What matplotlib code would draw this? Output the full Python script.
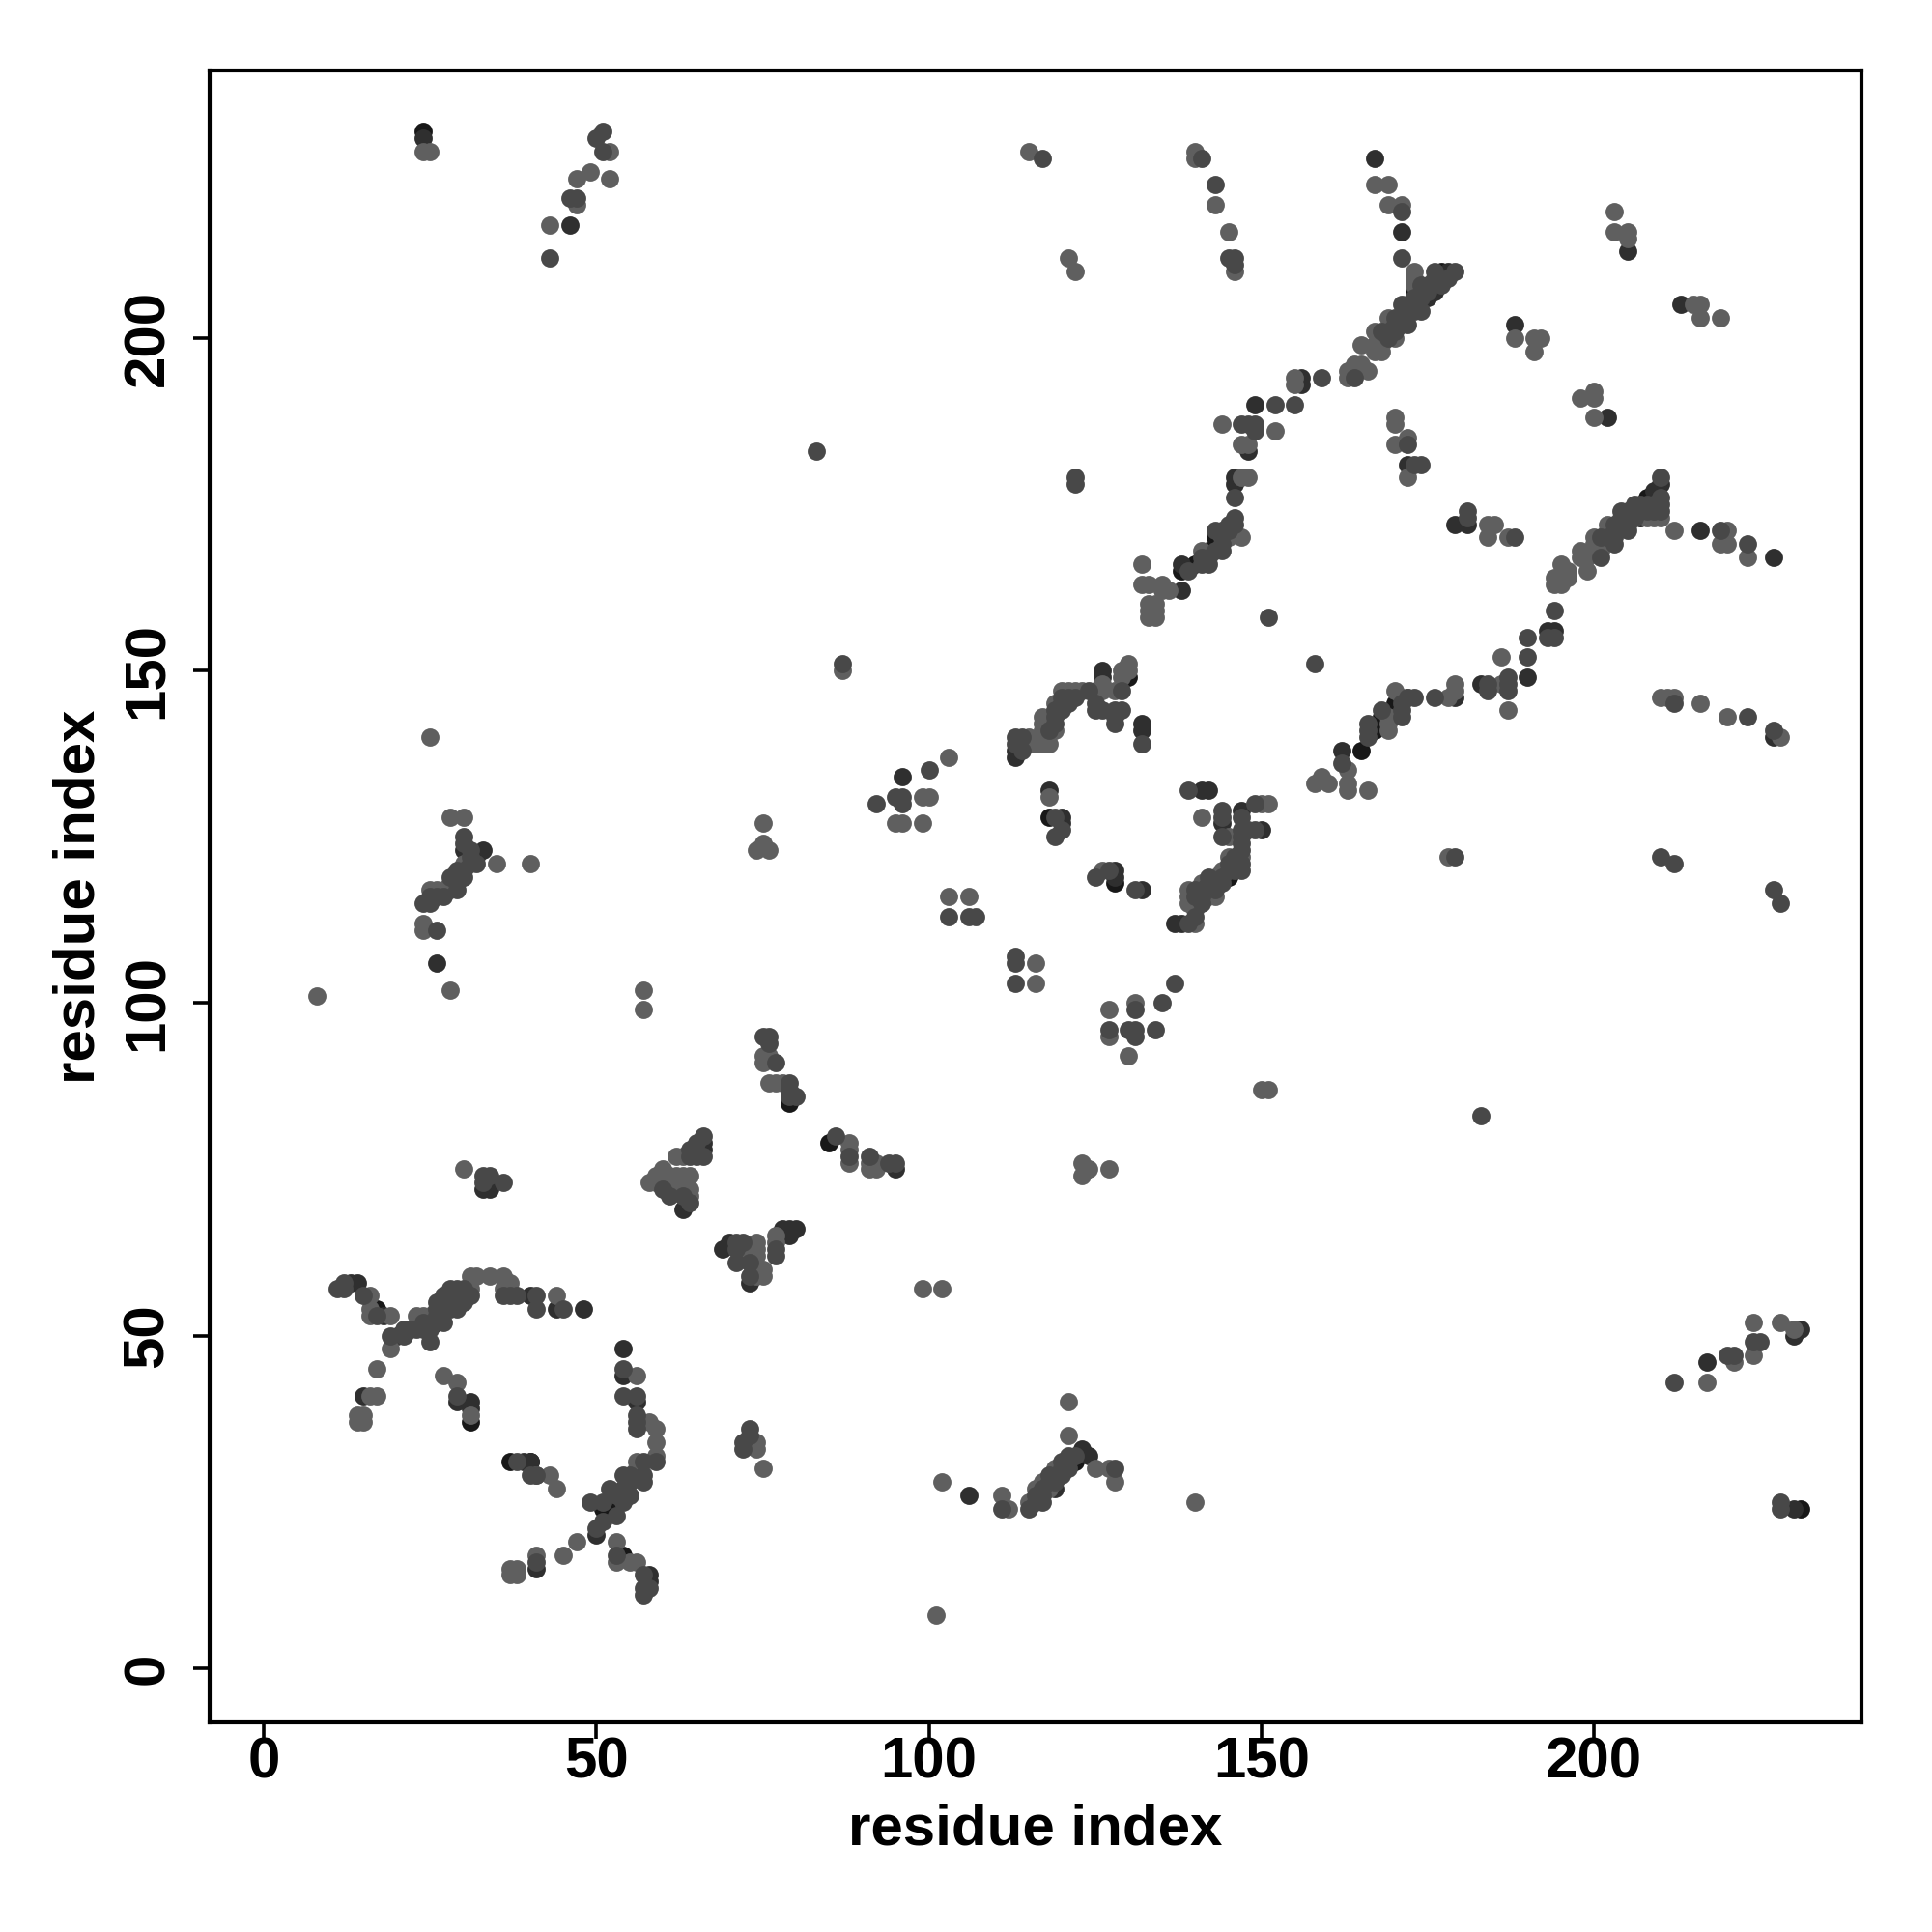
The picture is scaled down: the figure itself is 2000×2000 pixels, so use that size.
import numpy as np
import matplotlib
matplotlib.use("Agg")
import matplotlib.pyplot as plt

plt.rcParams['font.family'] = ['Liberation Sans', 'DejaVu Sans']

tick_values = [0, 50, 100, 150, 200]
axis_label = "residue index"

# contacts (residue i, residue j), grouped by grey level
contacts_black = [(24,231),(17,54),(54,17),(85,79),(79,85),(118,128),(128,118),(140,166),(142,168),(173,207),(165,138),
    (138,165),(231,24),(208,176),(207,173),(177,210),(167,141),(145,119),(142,117),(31,37),(40,31),(37,31),(130,149),
    (25,52),(26,52),(52,25),(51,24),(122,31),(143,170),(168,143),(170,145),(206,174)]
contacts_dark = [(13,58),(14,58),(18,53),(20,50),(26,52),(40,56),(44,54),(48,54),(15,41),(29,40),(31,40),(31,39),(54,48),
    (54,44),(56,40),(41,15),(39,31),(40,31),(58,14),(58,13),(50,20),(46,217),(24,230),(167,227),(171,216),(188,202),
    (205,213),(213,205),(202,188),(146,179),(148,183),(149,190),(156,194),(156,193),(138,162),(138,166),(162,138),(179,146),
    (183,148),(190,149),(193,156),(194,156),(216,171),(227,167),(181,172),(209,177),(210,178),(227,140),(126,150),(126,149),
    (132,142),(132,141),(118,132),(120,128),(120,127),(128,120),(128,119),(132,117),(141,132),(142,132),(150,126),(137,112),
    (138,112),(113,138),(113,137),(95,75),(63,69),(69,63),(70,64),(79,65),(78,66),(79,66),(80,66),(66,79),(66,78),(73,58),
    (217,46),(230,50),(231,51),(230,24),(124,32),(123,33),(119,27),(106,26),(33,72),(34,72),(96,134),(30,123),(32,122),
    (33,123),(26,106),(172,181),(146,178),(147,129),(144,127),(65,78),(179,172),(176,207),(177,209),(178,210),(175,206)]
contacts_light = [(16,56),(16,54),(16,53),(19,53),(19,48),(17,45),(23,53),(24,53),(25,53),(16,41),(17,41),(14,38),(15,38),
    (14,37),(15,37),(27,44),(29,43),(31,38),(56,44),(58,37),(59,36),(59,34),(59,32),(56,31),(56,30),(47,19),(45,17),(41,17),
    (37,15),(38,15),(37,14),(38,14),(41,29),(43,29),(44,27),(53,19),(53,16),(55,16),(56,16),(44,56),(31,59),(32,59),(34,59),
    (36,59),(37,58),(36,57),(31,57),(75,92),(76,92),(75,91),(76,88),(77,88),(78,88),(88,79),(88,78),(88,76),(91,76),(91,75),
    (92,75),(92,76),(63,77),(62,77),(60,75),(61,74),(62,74),(63,74),(64,74),(59,73),(63,72),(64,71),(64,72),(62,72),
    (58,73),(59,74),(60,74),(61,73),(72,62),(74,64),(74,63),(74,62),(75,60),(75,59),(74,59),(77,64),(77,65),(99,57),
    (102,57),(130,151),(130,150),(129,150),(129,149),(126,148),(128,147),(126,147),(125,147),(123,147),(122,147),(121,147),
    (120,147),(119,145),(117,143),(118,143),(118,142),(117,142),(117,141),(119,141),(115,140),(114,139),(115,139),(116,139),
    (117,139),(118,139),(118,131),(126,120),(141,128),(145,125),(150,130),(151,130),(147,122),(145,122),
    (144,120),(143,119),(143,116),(141,118),(142,116),(139,117),(139,116),(139,115),(140,115),(140,114),(140,112),(116,106),
    (116,103),(127,99),(131,100),(127,95),(130,92),(158,133),(159,134),(160,133),(163,135),(163,133),(163,132),(166,132),
    (170,147),(169,143),(169,142),(169,141),(172,146),(171,146),(178,146),(179,147),(179,148),(186,148),(186,152),(187,144),
    (194,163),(194,164),(195,166),(196,165),(195,163),(196,164),(198,168),(198,167),(199,165),(199,167),(200,170),
    (200,169),(201,168),(201,169),(202,172),(202,171),(203,171),(204,173),(205,173),(208,173),(209,173),(210,173),
    (212,171),(220,171),(219,169),(220,169),(223,167),(210,146),(211,146),(212,146),(216,145),(220,143),(228,140),(178,122),
    (184,172),(185,172),(184,170),(187,170),(133,158),(134,158),(133,159),(134,159),(133,160),(134,160),(132,166),
    (132,163),(133,163),(135,163),(136,162),(135,162),(141,168),(144,170),(145,170),(147,170),(147,179),(148,179),
    (144,187),(147,184),(148,184),(152,186),(155,194),(155,193),(163,195),(163,194),(164,196),(165,196),(166,195),(165,199),
    (167,201),(167,199),(168,198),(167,198),(169,203),(168,199),(170,200),(173,210),(173,209),(173,208),(146,210),
    (170,188),(170,187),(170,184),(172,185),(172,179),(24,228),(25,228),(52,228),(52,224),(49,225),(47,224),(47,220),(43,217),
    (115,228),(121,212),(122,210),(140,228),(140,227),(143,220),(145,216),(167,223),(169,223),(169,220),(171,220),
    (188,200),(191,200),(192,200),(191,198),(203,219),(203,216),(205,216),(205,215),(215,205),(216,205),(216,203),
    (219,203),(198,191),(200,192),(200,191),(200,188),(87,150),(25,140),(103,137),(99,131),(95,127),(96,127),(99,127),(75,127),
    (74,123),(75,124),(76,123),(28,128),(30,128),(30,121),(28,118),(27,117),(28,117),(26,117),(25,117),(24,112),(24,111),
    (28,102),(35,121),(40,121),(8,101),(57,102),(57,99),(103,116),(106,116),(150,87),(151,87),(123,76),(124,75),(123,74),(127,75),
    (30,75),(217,43),(221,46),(224,47),(224,52),(228,52),(230,51),(140,25),(101,8),(74,34),(74,33),(75,30),(121,40),(121,35),
    (125,30),(127,30),(128,28),(119,30),(117,28),(116,27),(115,25),(118,27),(111,26),(112,24),(102,28),(100,131)]
contacts_mid = [(11,57),(12,57),(12,58),(15,56),(17,53),(19,50),(21,51),(21,50),(22,51),(23,51),(25,51),(25,49),(26,55),
    (27,54),(27,52),(28,57),(28,54),(29,54),(29,56),(29,57),(36,56),(37,56),(38,56),(41,56),(41,54),(45,54),(29,41),(54,45),
    (54,41),(56,41),(56,38),(56,37),(56,36),(59,31),(57,31),(57,29),(55,29),(54,29),(57,28),(55,28),(55,26),(54,27),(54,25),
    (53,26),(52,27),(53,23),(51,25),(51,22),(50,21),(49,25),(41,16),(53,17),(57,14),(58,12),(57,12),(57,11),
    (38,31),(40,29),(41,29),(75,95),(76,95),(76,94),(77,91),(79,88),(79,87),(79,86),(80,86),(86,80),(88,77),(91,77),(94,76),
    (95,76),(66,80),(64,77),(60,72),(61,71),(64,70),(63,71),(71,64),(72,64),(71,63),(71,61),(73,61),(73,59),(77,62),(77,63),
    (43,212),(47,221),(46,221),(50,230),(51,231),(51,228),(141,227),(117,227),(145,212),(146,212),(146,211),(171,219),(143,223),(122,179),
    (132,139),(129,147),(128,144),(129,144),(125,145),(125,144),(124,147),(122,146),(121,145),(120,144),(119,142),(118,141),
    (114,140),(113,140),(113,139),(114,138),(119,128),(120,126),(119,125),(125,119),(127,120),(131,117),(139,132),(144,129),
    (144,128),(144,125),(147,126),(147,125),(147,124),(147,123),(147,121),(147,120),(146,122),(145,121),(144,119),(143,118),
    (142,118),(141,117),(139,112),(140,113),(113,107),(113,106),(113,103),(127,96),(130,96),(131,96),(131,99),(134,96),
    (149,130),(149,126),(148,126),(162,136),(149,187),(148,187),(147,187),(149,186),(152,190),(155,190),(159,194),
    (139,165),(144,168),(145,172),(146,173),(146,172),(143,171),(146,176),(164,194),(171,205),(170,202),(171,202),(172,202),
    (172,204),(173,204),(174,204),(174,208),(175,207),(175,208),(176,210),(176,209),(179,210),(171,212),
    (172,184),(173,181),(174,181),(187,149),(187,148),(187,147),(184,147),(184,148),(194,155),(193,155),(190,155),(190,152),
    (194,159),(176,146),(173,146),(172,146),(171,145),(171,143),(171,144),(168,144),(166,142),(166,141),(166,140),(201,167),
    (203,169),(203,170),(204,174),(205,172),(205,171),(206,175),(207,174),(210,179),(210,176),(223,169),(188,170),(181,174),
    (181,173),(219,171),(212,145),(223,143),(227,141),(179,122),(210,122),(212,121),(227,117),(228,115),(225,49),(228,25),
    (228,24),(221,47),(220,47),(224,49),(212,43),(120,31),(122,32),(121,32),(118,29),(117,26),(115,24),(116,25),(111,24),
    (100,135),(96,131),(95,131),(96,130),(92,130),(30,125),(30,124),(30,120),(29,119),(32,121),(25,115),(24,115),(26,111),
    (33,74),(34,74),(33,73),(36,73),(31,56),(73,36),(72,34),(73,35),(72,33),(128,30),(83,183),(122,178),(87,151),(158,151),
    (183,83),(151,158),(103,113),(106,113),(107,113),(131,95),(137,103),(135,100),(128,143),(128,142),(126,144),(147,128),
    (174,206),(173,206),(172,205),(170,203),(169,201),(171,203),(168,201),(169,200),(170,201),(177,208),(178,209),
    (205,174),(207,175),(208,175),(208,174),(209,175),(209,174),(210,175),(210,174),(206,173),(204,172),(203,172),(202,170),(201,170),
    (142,167),(143,168),(144,171),(144,169),(145,171),(141,166),(141,167),(142,166),
    (119,143),(120,145),(120,146),(121,146),(119,144),
    (28,119),(29,118),(29,120),(30,119),(31,121),(31,122),(31,123),(26,116),(27,116),(25,116),(29,117),
    (119,28),(120,29),(120,30),(121,30),(121,31),(118,28),(117,25),(117,27),(116,26),
    (142,119),(143,117),(144,118),(145,120),(146,120),(146,121),(141,116),(140,116),(140,117),(141,115),
    (65,79),(64,78),(65,77),(66,77),
    (24,52),(24,51),(26,53),(26,54),(27,55),(27,56),(28,55),(28,56),(30,56),(30,57),(30,55)]

fig = plt.figure(figsize=(10, 10), dpi=200)
ax = fig.add_axes([217/2000, 1 - 1783/2000, (1927-217)/2000, (1783-73)/2000])

groups = [(contacts_black, "#181818"), (contacts_dark, "#2f2f2f"),
          (contacts_mid, "#484848"), (contacts_light, "#5f5f5f")]
draw_order = [0, 1, 3, 2]
for k in draw_order:
    pts, col = groups[k]
    a = np.array(pts)
    ax.scatter(a[:, 0], a[:, 1], s=46, c=col, linewidths=0, zorder=3)

ax.set_xlim(-8.15, 240.2)
ax.set_ylim(-8.15, 240.2)
ax.set_xticks(tick_values)
ax.set_yticks(tick_values)
ax.tick_params(axis='both', length=6, width=1.3, labelsize=21.6, color='black')
ax.tick_params(axis='x', pad=-0.8)
ax.tick_params(axis='y', pad=7)
for lab in ax.get_xticklabels():
    lab.set_fontweight('bold')
for lab in ax.get_yticklabels():
    lab.set_fontweight('bold')
    lab.set_rotation(90)
    lab.set_va('center')
for s in ax.spines.values():
    s.set_linewidth(1.5)
ax.set_xlabel(axis_label, fontsize=21.6, fontweight='bold', labelpad=5)
ax.set_ylabel(axis_label, fontsize=21.6, fontweight='bold', labelpad=6)

fig.savefig("out.png", dpi=200)
